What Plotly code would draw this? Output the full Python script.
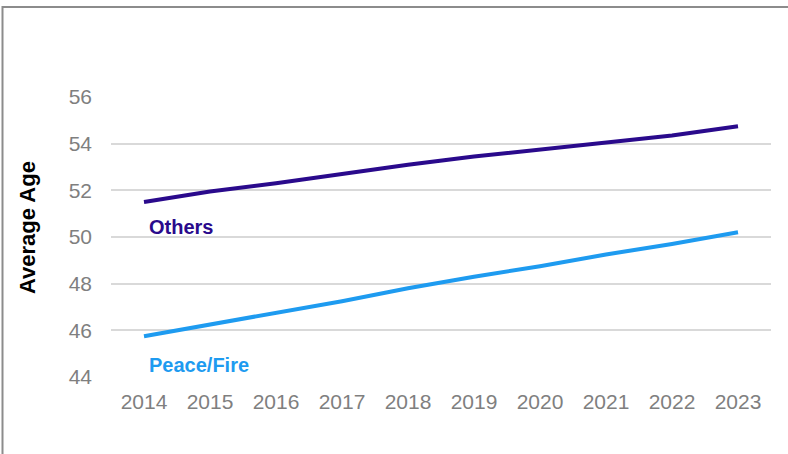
import plotly.graph_objects as go

years = ["2014", "2015", "2016", "2017", "2018", "2019", "2020", "2021", "2022", "2023"]
others = [51.5, 51.95, 52.3, 52.7, 53.1, 53.45, 53.75, 54.05, 54.35, 54.75]
peace_fire = [45.75, 46.25, 46.75, 47.25, 47.8, 48.3, 48.75, 49.25, 49.7, 50.2]
y_ticks = [44, 46, 48, 50, 52, 54, 56]

c_others = "#2A0A8C"
c_peace = "#1E9BF0"

W, H = 788, 454
L, R, T, B = 111, 17, 97, 77
pw, ph = W - L - R, H - T - B

fig = go.Figure()
fig.add_trace(go.Scatter(x=years, y=others, mode="lines", name="Others",
                         line=dict(color=c_others, width=4)))
fig.add_trace(go.Scatter(x=years, y=peace_fire, mode="lines", name="Peace/Fire",
                         line=dict(color=c_peace, width=4)))

fig.update_layout(
    width=W, height=H,
    margin=dict(l=L, r=R, t=T, b=B),
    paper_bgcolor="white", plot_bgcolor="white",
    showlegend=False,
    font=dict(family="Liberation Sans, Arial, sans-serif"),
    xaxis=dict(type="category", range=[-0.5, 9.5], showgrid=False, zeroline=False,
               showline=False, ticks="", ticklabelstandoff=10,
               tickfont=dict(size=21, color="#7F7F7F")),
    yaxis=dict(range=[44, 56], tickvals=y_ticks, showgrid=True, gridcolor="#D9D9D9",
               gridwidth=1.5, zeroline=False, showline=False, ticks="",
               ticklabelstandoff=18,
               tickfont=dict(size=21, color="#7F7F7F")),
)

# Series labels (x given as category index)
fig.add_annotation(xref="x", yref="y", x=0, y=50.43, text="<b>Others</b>", showarrow=False,
                   xanchor="left", xshift=3, font=dict(size=20, color=c_others))
fig.add_annotation(xref="x", yref="y", x=0, y=44.51, text="<b>Peace/Fire</b>", showarrow=False,
                   xanchor="left", xshift=3, font=dict(size=20, color=c_peace))

# Axis title
fig.add_annotation(xref="paper", yref="paper", x=(27 - L) / pw, y=(H - B - 228) / ph,
                   xanchor="center", yanchor="middle",
                   text="<b>Average Age</b>", textangle=-90, showarrow=False,
                   font=dict(size=22, color="black"))

# Chart frame
fig.add_shape(type="rect", xref="paper", yref="paper",
              x0=(2.5 - L) / pw, x1=(W + 20 - L) / pw,
              y0=(H - B - H - 20) / ph, y1=(H - B - 7) / ph,
              line=dict(color="#8C8C8C", width=2), fillcolor="rgba(0,0,0,0)", layer="below")

fig.write_html("out.html")
